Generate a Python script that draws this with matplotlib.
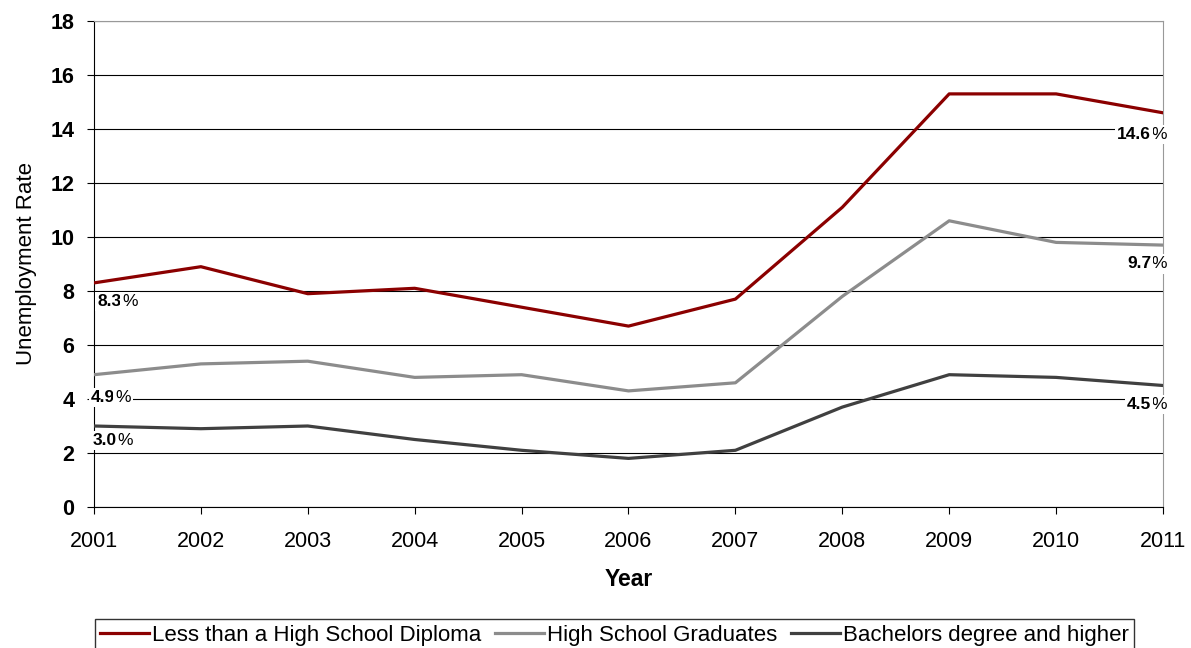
import matplotlib.pyplot as plt

years = [2001, 2002, 2003, 2004, 2005, 2006, 2007, 2008, 2009, 2010, 2011]
less_hs = [8.3, 8.9, 7.9, 8.1, 7.4, 6.7, 7.7, 11.1, 15.3, 15.3, 14.6]
hs_grad = [4.9, 5.3, 5.4, 4.8, 4.9, 4.3, 4.6, 7.8, 10.6, 9.8, 9.7]
bachelors = [3.0, 2.9, 3.0, 2.5, 2.1, 1.8, 2.1, 3.7, 4.9, 4.8, 4.5]

labels = ['Less than a High School Diploma', 'High School Graduates',
          'Bachelors degree and higher']
colors = ['#8b0000', '#8c8c8c', '#404040']

# value labels: (text, x, y, ha)
end_labels = [
    ('8.3', 2001.03, 7.6, 'left'), ('4.9', 2000.97, 4.05, 'left'),
    ('3.0', 2000.99, 2.45, 'left'),
    ('14.6', 2011.04, 13.8, 'right'), ('9.7', 2011.04, 9.0, 'right'),
    ('4.5', 2011.04, 3.8, 'right'),
]

plt.rcParams['font.family'] = ['Liberation Sans', 'DejaVu Sans']

fig = plt.figure(figsize=(11.91, 6.48), dpi=100)
ax = fig.add_axes([0.0789, 0.2176, 0.8976, 0.75])

for vals, lab, c in zip([less_hs, hs_grad, bachelors], labels, colors):
    ax.plot(years, vals, color=c, lw=2.3, label=lab, zorder=3)

ax.set_xlim(2001, 2011)
ax.set_ylim(0, 18)
ax.set_xticks(years)
ax.set_yticks(range(0, 19, 2))
ax.tick_params(length=5, width=0.8, color='black')
ax.tick_params(axis='x', labelsize=15.5, pad=12)
ax.tick_params(axis='y', labelsize=15.5, pad=9)
for t in ax.get_yticklabels():
    t.set_fontweight('bold')
ax.yaxis.grid(True, color='black', lw=0.8)
ax.set_axisbelow(True)
for s in ['left', 'bottom']:
    ax.spines[s].set_color('black')
for s in ['top', 'right']:
    ax.spines[s].set_color('#999999')

ax.set_xlabel('Year', fontsize=16.5, fontweight='bold', labelpad=12)
ax.set_ylabel('Unemployment Rate', fontsize=16, labelpad=10)

box = dict(facecolor='white', edgecolor='none', pad=1.5)
for txt, x, y, ha in end_labels:
    if ha == 'left':
        t = ax.text(x, y, txt, fontsize=12.5, fontweight='bold', ha='left', va='center',
                    zorder=5, clip_on=False, bbox=box)
        ax.annotate('%', xy=(1, 0.5), xycoords=t, xytext=(0.5, 0), textcoords='offset points',
                    va='center', ha='left', fontsize=12.5, zorder=6,
                    annotation_clip=False, bbox=box)
    else:
        p = ax.text(x, y, '%', fontsize=12.5, ha='right', va='center', zorder=5,
                    clip_on=False, bbox=box)
        ax.annotate(txt, xy=(0, 0.5), xycoords=p, xytext=(-0.5, 0), textcoords='offset points',
                    va='center', ha='right', fontsize=12.5, fontweight='bold', zorder=6,
                    annotation_clip=False, bbox=box)

leg = fig.legend(loc='upper center', bbox_to_anchor=(0.516, 0.044), ncol=3,
                 frameon=True, fancybox=False, edgecolor='black', fontsize=16,
                 handlelength=2.2, handletextpad=0.15, columnspacing=0.6,
                 borderpad=0.25, borderaxespad=0)
leg.get_frame().set_linewidth(1.0)

fig.savefig('out.png', dpi=100)
